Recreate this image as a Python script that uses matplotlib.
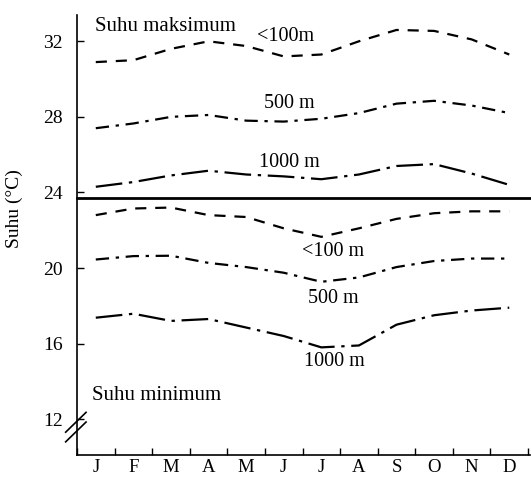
import matplotlib
matplotlib.use("Agg")
from matplotlib import pyplot as plt

plt.rcParams['font.family'] = ['Liberation Serif', 'DejaVu Serif']

months = ['J', 'F', 'M', 'A', 'M', 'J', 'J', 'A', 'S', 'O', 'N', 'D']
month_pos = [i + 0.5 for i in range(12)]

# Suhu maksimum (deg C) per bulan
max_100 = [30.9, 31.0, 31.6, 32.0, 31.75, 31.2, 31.3, 32.0, 32.6, 32.55, 32.1, 31.3]
max_500 = [27.4, 27.65, 28.0, 28.1, 27.8, 27.75, 27.9, 28.2, 28.7, 28.85, 28.6, 28.2]
max_1000 = [24.3, 24.55, 24.9, 25.15, 24.95, 24.85, 24.7, 24.95, 25.4, 25.5, 25.0, 24.4]

# Suhu minimum (deg C) per bulan
min_100 = [22.8, 23.15, 23.2, 22.8, 22.7, 22.1, 21.65, 22.1, 22.6, 22.9, 23.0, 23.0]
min_500 = [20.45, 20.63, 20.65, 20.27, 20.05, 19.75, 19.27, 19.5, 20.05, 20.37, 20.5, 20.5]
min_1000 = [17.37, 17.58, 17.2, 17.3, 16.85, 16.4, 15.8, 15.9, 17.0, 17.5, 17.75, 17.9]

y_ticks = [12, 16, 20, 24, 28, 32]
divider = 23.7

fig = plt.figure(figsize=(5.31, 4.79), dpi=100)
ax = fig.add_axes([0.145, 0.05, 0.853, 0.919])

lw = 1.6
dash = (5, 4)
dashdot_500 = (6, 3, 1.5, 3)
dashdot_1000 = (12, 3, 1.5, 3)

ax.plot(month_pos, max_100, color='black', lw=lw, dashes=dash)
ax.plot(month_pos, max_500, color='black', lw=lw, dashes=dashdot_500)
ax.plot(month_pos, max_1000, color='black', lw=lw, dashes=dashdot_1000)
ax.plot(month_pos, min_100, color='black', lw=lw, dashes=dash)
ax.plot(month_pos, min_500, color='black', lw=lw, dashes=dashdot_500)
ax.plot(month_pos, min_1000, color='black', lw=lw, dashes=dashdot_1000)

ax.axhline(divider, color='black', lw=2, clip_on=False, xmax=1.0)

# labels on the curves
ax.text(0.48, 32.8, 'Suhu maksimum', fontsize=15, va='center', ha='left')
ax.text(5.56, 32.25, '<100m', fontsize=14.5, va='center', ha='center')
ax.text(5.66, 28.7, '500 m', fontsize=14.5, va='center', ha='center')
ax.text(5.64, 25.6, '1000 m', fontsize=14.5, va='center', ha='center')
ax.text(6.8, 20.85, '<100 m', fontsize=14.5, va='center', ha='center')
ax.text(6.83, 18.4, '500 m', fontsize=14.5, va='center', ha='center')
ax.text(6.86, 15.05, '1000 m', fontsize=14.5, va='center', ha='center')
ax.text(0.4, 13.26, 'Suhu minimum', fontsize=15, va='center', ha='left')

ax.set_xlim(0, 12.05)
ax.set_ylim(10.1, 33.4)

ax.set_xticks(range(13))
ax.set_xticklabels([])
ax.set_xticks(month_pos, minor=True)
ax.set_xticklabels(months, minor=True, fontsize=13.5)
ax.tick_params(axis='x', which='major', direction='in', length=5, width=1)
ax.tick_params(axis='x', which='minor', length=0, pad=3)

ax.set_yticks(y_ticks)
ax.set_yticklabels([str(v) for v in y_ticks], fontsize=14)
ax.tick_params(axis='y', direction='in', length=5, width=1, pad=10)

ax.set_ylabel('Suhu (°C)', fontsize=14)
ax.yaxis.set_label_coords(-0.12, 0.56)

for s in ['top', 'right']:
    ax.spines[s].set_visible(False)
ax.spines['left'].set_linewidth(1.2)
ax.spines['bottom'].set_linewidth(1.2)

# axis break mark
for dy in (0.0, 0.022):
    ax.plot([-0.025, 0.02], [0.03 + dy, 0.075 + dy], transform=ax.transAxes,
            color='black', lw=1.2, clip_on=False)

plt.savefig('out.png', dpi=100)
